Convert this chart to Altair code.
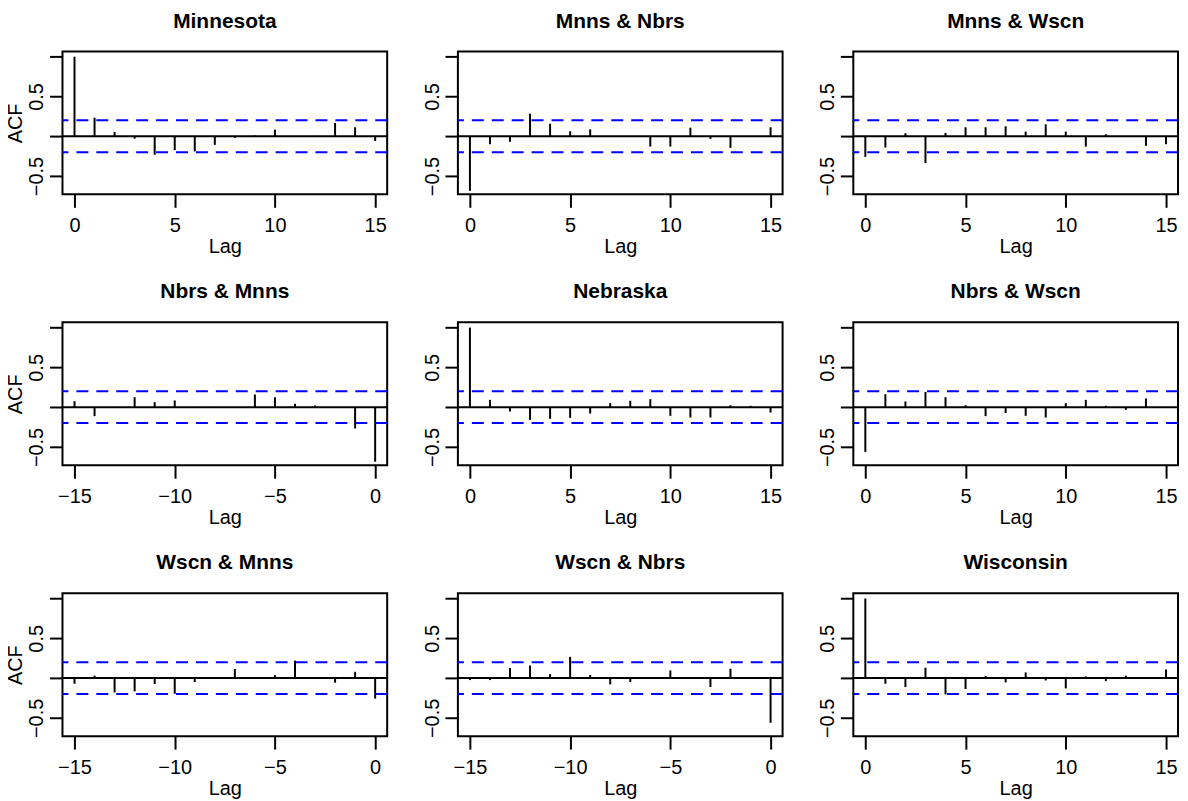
import altair as alt
import pandas as pd

FONT = "Liberation Sans"

lags_pos = list(range(0, 16))
lags_neg = list(range(-15, 1))
x_ticks_pos = [0, 5, 10, 15]
x_ticks_neg = [-15, -10, -5, 0]
y_ticks = [-0.5, 0.0, 0.5, 1.0]
clim = [0.2, -0.2]

minnesota = [1.0, 0.233, 0.054, -0.03, -0.233, -0.175, -0.19, -0.108, -0.02, 0.01, 0.083, -0.01, 0.005, 0.167, 0.113, -0.06]
mnns_nbrs = [-0.685, -0.1, -0.07, 0.283, 0.158, 0.0625, 0.0875, -0.005, -0.005, -0.13, -0.13, 0.108, -0.033, -0.146, -0.01, 0.113]
mnns_wscn = [-0.258, -0.142, 0.0375, -0.3375, 0.042, 0.113, 0.113, 0.125, 0.058, 0.15, 0.058, -0.13, 0.025, -0.01, -0.12, -0.1]
nbrs_mnns = [0.075, -0.113, 0.005, 0.125, 0.063, 0.084, 0.005, 0.005, -0.005, 0.159, 0.125, 0.042, 0.021, -0.01, -0.268, -0.685]
nebraska = [1.0, 0.092, -0.054, -0.159, -0.146, -0.134, -0.08, 0.05, 0.08, 0.1, -0.109, -0.13, -0.13, 0.025, 0.017, -0.067]
nbrs_wscn = [-0.562, 0.163, 0.071, 0.192, 0.125, 0.025, -0.113, -0.075, -0.109, -0.13, 0.05, 0.092, 0.017, -0.033, 0.109, 0.005]
wscn_mnns = [-0.071, 0.03, -0.18, -0.167, -0.075, -0.197, -0.05, -0.01, 0.113, -0.005, 0.037, 0.22, -0.005, -0.058, 0.079, -0.258]
wscn_nbrs = [-0.025, -0.025, 0.125, 0.158, 0.05, 0.267, 0.038, -0.079, -0.05, -0.01, 0.096, -0.01, -0.113, 0.117, -0.005, -0.562]
wisconsin = [1.0, -0.071, -0.113, 0.13, -0.205, -0.138, 0.025, -0.054, 0.071, -0.03, -0.13, 0.02, -0.038, 0.03, -0.01, 0.108]

panels_spec = [
    ("Minnesota", lags_pos, minnesota, True),
    ("Mnns & Nbrs", lags_pos, mnns_nbrs, False),
    ("Mnns & Wscn", lags_pos, mnns_wscn, False),
    ("Nbrs & Mnns", lags_neg, nbrs_mnns, True),
    ("Nebraska", lags_pos, nebraska, False),
    ("Nbrs & Wscn", lags_pos, nbrs_wscn, False),
    ("Wscn & Mnns", lags_neg, wscn_mnns, True),
    ("Wscn & Nbrs", lags_neg, wscn_nbrs, False),
    ("Wisconsin", lags_pos, wisconsin, False),
]

W, H = 326, 143.5
YDOM = [-0.73, 1.066]


def panel(title, lags, vals, ylab):
    neg = lags[0] < 0
    df = pd.DataFrame({"lag": lags, "acf": vals, "base": [0.0] * len(lags)})
    xscale = alt.Scale(domain=[-15.6, 0.6] if neg else [-0.6, 15.6], nice=False, zero=False)
    yscale = alt.Scale(domain=YDOM, nice=False, zero=False)
    xaxis = alt.Axis(
        values=x_ticks_neg if neg else x_ticks_pos, format="d", title="Lag",
        domain=False, grid=False, tickSize=13, tickWidth=2, tickColor="black",
        labelFont=FONT, labelFontSize=20, labelColor="black", labelBaseline="alphabetic",
        labelPadding=24.4, labelFlush=False, labelOverlap=False,
        titleFont=FONT, titleFontSize=20, titleFontWeight="normal", titleColor="black",
        titleBaseline="alphabetic", titleY=58.4,
    )
    yargs = dict(
        values=y_ticks, format=".1f",
        labelExpr="abs(datum.value) == 0.5 ? datum.label : ''",
        domain=False, grid=False, tickSize=13, tickWidth=2, tickColor="black",
        labelFont=FONT, labelFontSize=20, labelColor="black", labelAngle=270,
        labelAlign="center", labelBaseline="alphabetic", labelPadding=6.7,
        labelOverlap=False, labelFlush=False,
    )
    if ylab:
        yargs.update(title="ACF", titleFont=FONT, titleFontSize=20, titleFontWeight="normal",
                     titleColor="black", titleAngle=270, titleAlign="center",
                     titleBaseline="alphabetic", titleX=-40.7, titleY=H / 2)
    else:
        yargs.update(title=None)
    yaxis = alt.Axis(**yargs)

    bars = alt.Chart(df).mark_rule(color="black", strokeWidth=2).encode(
        x=alt.X("lag:Q", scale=xscale, axis=xaxis),
        y=alt.Y("acf:Q", scale=yscale, axis=yaxis),
        y2="base:Q",
    )
    zero = alt.Chart(pd.DataFrame({"z": [0.0]})).mark_rule(color="black", strokeWidth=2).encode(
        y=alt.Y("z:Q", scale=yscale)
    )
    dash = alt.Chart(pd.DataFrame({"c": clim})).mark_rule(
        color="#0000FF", strokeWidth=2, strokeDash=[12, 8]
    ).encode(y=alt.Y("c:Q", scale=yscale))
    return alt.layer(bars, zero, dash).properties(
        width=W, height=H,
        title=alt.TitleParams(title, font=FONT, fontSize=21, fontWeight="bold", color="black",
                              baseline="alphabetic", offset=3, anchor="middle"),
    )


charts = [panel(*p) for p in panels_spec]
chart = alt.concat(
    *charts, columns=3, spacing=alt.RowColnumber(row=128, column=71), bounds="flush"
).properties(
    padding={"left": -3.3, "top": 0, "right": 0, "bottom": 0},
    background="white",
).configure_view(stroke="black", strokeWidth=2)

chart.save("out.html", embed_options={"renderer": "svg", "actions": False})
